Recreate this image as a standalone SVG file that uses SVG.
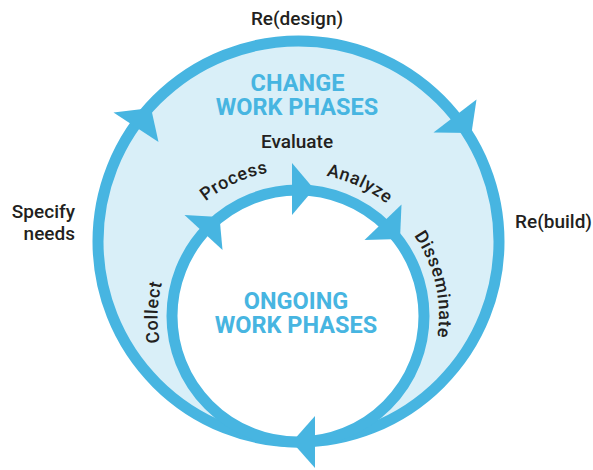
<svg xmlns="http://www.w3.org/2000/svg" width="593" height="470" viewBox="0 0 593 470">
<style>
.ring{stroke:#47b5e1;stroke-width:11}
.head{fill:#47b5e1}
.lbl{font-family:Roboto,"Liberation Sans",sans-serif;font-weight:500;font-size:19px;fill:#231f20}
.arc{font-family:Roboto,"Liberation Sans",sans-serif;font-weight:500;font-size:18px;letter-spacing:0.6px;fill:#231f20}
.ttl{font-family:Roboto,"Liberation Sans",sans-serif;font-weight:700;font-size:23.5px;fill:#47b5e1;text-anchor:middle}
</style>
<defs>
<path id="pProcess" d="M 177.1 231.4 A 146 146 0 0 1 309.5 170.5"/>
<path id="pAnalyze" d="M 288.0 173.3 A 143 143 0 0 1 413.7 231.9"/>
<path id="pDissem" d="M 401.1 219.8 A 141 141 0 0 1 432.8 357.2"/>
<path id="pCollect" d="M 174.3 383.6 A 139 139 0 0 1 179.3 242.6"/>
</defs>
<g id="change-cycle">
<circle class="ring" cx="298.5" cy="241.5" r="200.5" fill="#d9eff8"/>
<text class="ttl" x="297.5" y="91">CHANGE</text>
<text class="ttl" x="297" y="115">WORK PHASES</text>
</g>
<g id="ongoing-cycle">
<circle class="ring" cx="298" cy="316" r="126" fill="#ffffff"/>
<text class="ttl" x="296" y="309">ONGOING</text>
<text class="ttl" x="296" y="333">WORK PHASES</text>
</g>
<g id="connectors">
<polygon class="head" points="113.5,112.5 158.5,142 151,108"/>
<polygon class="head" points="476.5,99.5 433.5,132.5 471.5,133"/>
<polygon class="head" points="315,416 315,468 292,442"/>
<polygon class="head" points="184.5,215 222.5,250 219.5,217"/>
<polygon class="head" points="292,163 292,215 314,189"/>
<polygon class="head" points="401.5,204.5 364.5,240 400,239"/>
</g>
<g id="label-redesign"><text class="lbl" x="297" y="25" text-anchor="middle">Re(design)</text></g>
<g id="label-rebuild"><text class="lbl" x="515" y="228">Re(build)</text></g>
<g id="label-specify"><text class="lbl" x="75" y="218" text-anchor="end">Specify</text><text class="lbl" x="75" y="240" text-anchor="end">needs</text></g>
<g id="label-evaluate"><text class="lbl" x="297" y="148" text-anchor="middle">Evaluate</text></g>
<g id="label-process"><text class="arc"><textPath href="#pProcess" startOffset="50%" text-anchor="middle">Process</textPath></text></g>
<g id="label-analyze"><text class="arc"><textPath href="#pAnalyze" startOffset="50%" text-anchor="middle">Analyze</textPath></text></g>
<g id="label-disseminate"><text class="arc"><textPath href="#pDissem" startOffset="50%" text-anchor="middle">Disseminate</textPath></text></g>
<g id="label-collect"><text class="arc"><textPath href="#pCollect" startOffset="50%" text-anchor="middle">Collect</textPath></text></g>
</svg>
